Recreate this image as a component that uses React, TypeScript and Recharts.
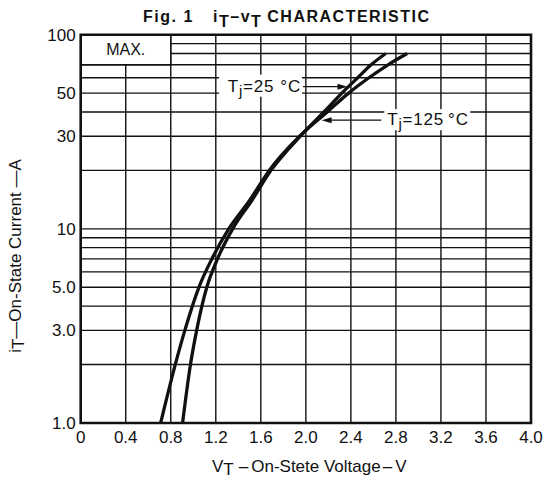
import React from 'react'
import {
  LineChart,
  Line,
  XAxis,
  YAxis,
  CartesianGrid,
  ReferenceArea,
  ReferenceLine,
  Customized,
} from 'recharts'

// axis ticks and grid values
const xTicks = [0, 0.4, 0.8, 1.2, 1.6, 2.0, 2.4, 2.8, 3.2, 3.6, 4.0]
const yTicks = [1, 3, 5, 10, 30, 50, 100]
const yGrid = [1, 2, 3, 4, 5, 6, 7, 8, 9, 10, 20, 30, 40, 50, 60, 70, 80, 90, 100]

// Tj = 25 °C  (on-state current A, on-state voltage V)
const current25 = [1, 2, 3, 5, 7, 10, 14, 20, 30, 40, 50, 60, 70, 80]
const voltage25 = [0.905, 0.975, 1.03, 1.12, 1.215, 1.35, 1.52, 1.69, 1.95, 2.16, 2.32, 2.46, 2.58, 2.71]

// Tj = 125 °C
const current125 = [1, 2, 3, 5, 7, 10, 14, 20, 30, 40, 50, 60, 70, 80]
const voltage125 = [0.71, 0.84, 0.925, 1.05, 1.165, 1.315, 1.5, 1.675, 1.945, 2.19, 2.38, 2.56, 2.73, 2.9]

// where the two callout arrows point
const arrow25 = { from: 1.975, to: 2.37, current: 54 }
const arrow125 = { from: 2.14, to: 2.67, current: 36.3 }

const data25 = current25.map((i, k) => ({ v: voltage25[k], i }))
const data125 = current125.map((i, k) => ({ v: voltage125[k], i }))

const FONT = '"Liberation Sans", Arial, Helvetica, sans-serif'
const INK = '#111'

const fmtX = (v: number) => (v === 0 ? '0' : v.toFixed(1))
const fmtY = (v: number) => (v < 10 ? v.toFixed(1) : String(v))

// arrow pointing right, label on the left
const Arrow25 = (p: any) => {
  const { x1, y1, x2 } = p
  return (
    <g>
      <rect x={x1 - 84} y={y1 - 12} width={83} height={22} fill="#fff" />
      <text x={x1 - 2} y={y1 + 5.5} textAnchor="end" fontSize={17} fill={INK} fontFamily={FONT} letterSpacing={0.8}>
        <tspan>T</tspan>
        <tspan dy={4} fontSize={15}>j</tspan>
        <tspan dy={-4}>=25</tspan>
        <tspan dx={6}>°C</tspan>
      </text>
      <line x1={x1} y1={y1} x2={x2 - 8} y2={y1} stroke={INK} strokeWidth={1.4} />
      <path d={`M${x2},${y1} L${x2 - 10},${y1 - 3} L${x2 - 10},${y1 + 3} Z`} fill={INK} />
    </g>
  )
}

// arrow pointing left, label on the right
const Arrow125 = (p: any) => {
  const { x1, y1, x2 } = p
  return (
    <g>
      <rect x={x2 + 3} y={y1 - 11} width={86} height={21} fill="#fff" />
      <text x={x2 + 6} y={y1 + 4.5} fontSize={17} fill={INK} fontFamily={FONT} letterSpacing={0.8}>
        <tspan>T</tspan>
        <tspan dy={4} fontSize={15}>j</tspan>
        <tspan dy={-4}>=125</tspan>
        <tspan dx={4}>°C</tspan>
      </text>
      <line x1={x1 + 8} y1={y1} x2={x2} y2={y1} stroke={INK} strokeWidth={1.4} />
      <path d={`M${x1},${y1} L${x1 + 10},${y1 - 3} L${x1 + 10},${y1 + 3} Z`} fill={INK} />
    </g>
  )
}

const Titles = () => (
  <g fontFamily={FONT} fill={INK}>
    <text x={143} y={21.5} fontSize={16} fontWeight="bold" letterSpacing={1.5}>
      Fig. 1
    </text>
    <text x={213} y={21.5} fontSize={16} fontWeight="bold" letterSpacing={1.5}>
      <tspan>i</tspan>
      <tspan dy={5}>T</tspan>
      <tspan dy={-5}>–v</tspan>
      <tspan dy={5}>T</tspan>
      <tspan dy={-5} dx={5}>CHARACTERISTIC</tspan>
    </text>
    <text x={212} y={471.5} fontSize={17}>
      <tspan>V</tspan>
      <tspan dy={3.5}>T</tspan>
      <tspan dy={-3.5} dx={5}>–</tspan>
      <tspan dx={3}>On-Stete Voltage</tspan>
      <tspan dx={2}>–</tspan>
      <tspan dx={3}>V</tspan>
    </text>
    <text transform="translate(20.5, 256) rotate(-90)" textAnchor="middle" fontSize={17}>
      <tspan>i</tspan>
      <tspan dy={3}>T</tspan>
      <tspan dy={-3}>—On-State Current —A</tspan>
    </text>
  </g>
)

export default function App() {
  return (
    <div style={{ position: 'absolute', left: 0, top: 0, background: '#fff' }}>
      <LineChart
        width={547}
        height={483}
        margin={{ top: 34.7, right: 16, bottom: 30, left: 40.7 }}
        style={{ fontFamily: FONT }}
      >
        <CartesianGrid
          stroke={INK}
          strokeWidth={1.4}
          horizontalValues={yGrid}
          verticalValues={xTicks}
        />
        <XAxis
          dataKey="v"
          type="number"
          domain={[0, 4]}
          ticks={xTicks}
          tickFormatter={fmtX}
          allowDataOverflow
          axisLine={false}
          tickLine={false}
          tickSize={0}
          tickMargin={8}
          height={30}
          tick={{ fill: INK, fontSize: 17, fontFamily: FONT }}
          interval={0}
        />
        <YAxis
          dataKey="i"
          type="number"
          scale="log"
          domain={[1, 100]}
          ticks={yTicks}
          tickFormatter={fmtY}
          allowDataOverflow
          axisLine={false}
          tickLine={false}
          tickSize={0}
          tickMargin={5}
          width={40}
          tick={{ fill: INK, fontSize: 17, fontFamily: FONT }}
          interval={0}
        />
        <ReferenceArea
          x1={0}
          x2={0.8}
          y1={70}
          y2={100}
          fill="#fff"
          fillOpacity={1}
          stroke={INK}
          strokeWidth={1.4}
          label={{ value: 'MAX.', position: 'center', fill: INK, fontSize: 16, fontFamily: FONT }}
        />
        <ReferenceArea x1={0} x2={4} y1={1} y2={100} fill="none" stroke={INK} strokeWidth={2.6} />
        <Line
          data={data25}
          dataKey="i"
          type="monotone"
          stroke={INK}
          strokeWidth={3.3}
          dot={false}
          isAnimationActive={false}
        />
        <Line
          data={data125}
          dataKey="i"
          type="monotone"
          stroke={INK}
          strokeWidth={3.3}
          dot={false}
          isAnimationActive={false}
        />
        <ReferenceLine
          segment={[
            { x: arrow25.from, y: arrow25.current },
            { x: arrow25.to, y: arrow25.current },
          ]}
          shape={Arrow25}
        />
        <ReferenceLine
          segment={[
            { x: arrow125.from, y: arrow125.current },
            { x: arrow125.to, y: arrow125.current },
          ]}
          shape={Arrow125}
        />
        <Customized component={<Titles />} />
      </LineChart>
    </div>
  )
}
